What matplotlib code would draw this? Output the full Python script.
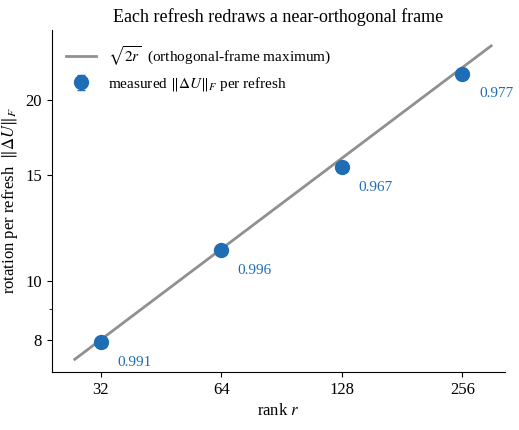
import numpy as np
import matplotlib
matplotlib.use("Agg")
import matplotlib.pyplot as plt
from matplotlib.ticker import FixedLocator, NullFormatter, FixedFormatter

plt.rcParams['font.family'] = ['Liberation Serif', 'DejaVu Serif']
plt.rcParams['mathtext.fontset'] = 'stix'

ranks = [32, 64, 128, 256]
ratios = [0.991, 0.996, 0.967, 0.977]
measured = [np.sqrt(2*r)*q for r, q in zip(ranks, ratios)]
errs = [0.15, 0.15, 0.15, 0.15]
line_r = np.geomspace(27.6, 302, 100)

fig, ax = plt.subplots(figsize=(5.19, 4.3), dpi=100)
ax.plot(line_r, np.sqrt(2*line_r), color='#909090', lw=2,
        label=r'$\sqrt{2r}$  (orthogonal-frame maximum)')
ax.errorbar(ranks, measured, yerr=errs, fmt='o', ms=10, color='#1f6db5',
            capsize=3, label=r'measured $\|\Delta U\|_F$ per refresh', zorder=3)
for r, m, q in zip(ranks, measured, ratios):
    ax.annotate(f'{q:.3f}', (r, m), xytext=(12, -10), textcoords='offset points',
                color='#1f6db5', fontsize=11, va='top')
ax.set_xscale('log'); ax.set_yscale('log')
ax.set_xlim(24.2, 327); ax.set_ylim(7.08, 26.1)
ax.xaxis.set_major_locator(FixedLocator(ranks))
ax.xaxis.set_major_formatter(FixedFormatter([str(r) for r in ranks]))
ax.xaxis.set_minor_formatter(NullFormatter())
ax.yaxis.set_major_locator(FixedLocator([8, 10, 15, 20]))
ax.yaxis.set_major_formatter(FixedFormatter(['8', '10', '15', '20']))
ax.yaxis.set_minor_locator(FixedLocator([9]))
ax.yaxis.set_minor_formatter(NullFormatter())
ax.xaxis.set_minor_locator(FixedLocator([]))
ax.tick_params(labelsize=12)
for s in ['top', 'right']:
    ax.spines[s].set_visible(False)
ax.set_xlabel(r'rank $r$', fontsize=12)
ax.set_ylabel(r'rotation per refresh  $\|\Delta U\|_F$', fontsize=12)
ax.set_title('Each refresh redraws a near-orthogonal frame', fontsize=13)
ax.legend(loc='upper left', frameon=False, fontsize=11)
fig.subplots_adjust(left=0.1, right=0.973, bottom=0.135, top=0.93)
fig.savefig('out.png')
